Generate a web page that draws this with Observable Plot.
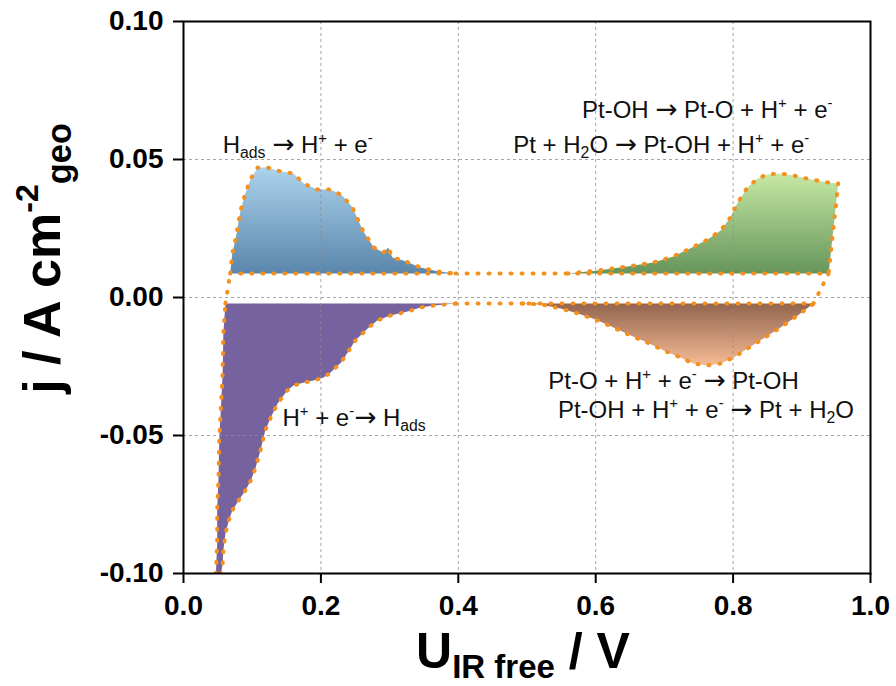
<!DOCTYPE html>
<html>
<head>
<meta charset="utf-8">
<script src="https://cdn.jsdelivr.net/npm/d3@7"></script>
<script src="https://cdn.jsdelivr.net/npm/@observablehq/plot@0.6"></script>
<style>
  html, body { margin: 0; padding: 0; background: #fff; }
  #chart svg { display: block; }
</style>
</head>
<body>
<div id="chart"></div>
<script>
// Axis ticks and their printed labels
const uTicks = [0, 0.2, 0.4, 0.6, 0.8, 1.0];
const uTickLabels = ["0.0", "0.2", "0.4", "0.6", "0.8", "1.0"];
const jTicks = [-0.10, -0.05, 0, 0.05, 0.10];
const jTickLabels = ["-0.10", "-0.05", "0.00", "0.05", "0.10"];

// Double-layer baselines of the anodic and cathodic sweeps (A cm^-2)
const anodicBase = 0.0087;
const cathodicBase = -0.0022;

// Hydrogen desorption (anodic sweep), upper edge
const hDesU = [0.068, 0.071, 0.076, 0.083, 0.090, 0.098, 0.108, 0.122, 0.141, 0.160, 0.175, 0.195,
               0.214, 0.231, 0.246, 0.261, 0.277, 0.291, 0.298, 0.304, 0.320, 0.345, 0.371, 0.396];
const hDesJ = [0.0087, 0.0159, 0.0214, 0.0315, 0.0377, 0.0431, 0.0471, 0.0471, 0.0457, 0.0449, 0.0413, 0.0391,
               0.0391, 0.0370, 0.0326, 0.0243, 0.0181, 0.0163, 0.0181, 0.0145, 0.0134, 0.0109, 0.0094, 0.0087];

// Pt oxidation (anodic sweep), upper edge then the turning point
const oxU = [0.559, 0.603, 0.646, 0.684, 0.713, 0.738, 0.763, 0.782, 0.796, 0.806, 0.821, 0.836,
             0.850, 0.869, 0.888, 0.913, 0.937, 0.953, 0.939];
const oxJ = [0.0087, 0.0098, 0.0112, 0.0127, 0.0149, 0.0178, 0.0210, 0.0243, 0.0290, 0.0341, 0.0399, 0.0431,
             0.0446, 0.0449, 0.0442, 0.0428, 0.0417, 0.0413, 0.0087];

// Pt oxide reduction (cathodic sweep), lower edge
const redU = [0.493, 0.520, 0.549, 0.574, 0.600, 0.626, 0.651, 0.675, 0.699, 0.723, 0.742, 0.763,
              0.782, 0.801, 0.821, 0.844, 0.869, 0.894, 0.917];
const redJ = [-0.0022, -0.0025, -0.0040, -0.0058, -0.0080, -0.0109, -0.0138, -0.0163, -0.0192, -0.0217, -0.0239, -0.0246,
              -0.0239, -0.0217, -0.0185, -0.0149, -0.0109, -0.0065, -0.0022];

// Hydrogen adsorption (cathodic sweep): inner edge going down, then outer edge coming back up
const hAdsU = [0.396, 0.364, 0.345, 0.326, 0.301, 0.282, 0.268, 0.250, 0.239, 0.229, 0.214, 0.204,
               0.189, 0.175, 0.160, 0.151, 0.137, 0.127, 0.119, 0.112, 0.105, 0.098, 0.090, 0.080,
               0.071, 0.066, 0.061, 0.058, 0.057, 0.054,
               0.047, 0.049, 0.049, 0.051, 0.052, 0.054, 0.057, 0.058, 0.061];
const hAdsJ = [-0.0022, -0.0029, -0.0036, -0.0051, -0.0065, -0.0083, -0.0112, -0.0156, -0.0199, -0.0236, -0.0272, -0.0290,
               -0.0301, -0.0308, -0.0319, -0.0337, -0.0384, -0.0435, -0.0482, -0.0554, -0.0616, -0.0663, -0.0699, -0.0736,
               -0.0772, -0.0808, -0.0855, -0.0917, -0.0964, -0.1011,
               -0.1011, -0.0891, -0.0772, -0.0652, -0.0518, -0.0420, -0.0275, -0.0130, -0.0022];

// Dotted links between the shaded regions along the scan
const linkId = ["left", "left", "upper", "upper", "right", "right", "lower", "lower"];
const linkU = [0.061, 0.068, 0.396, 0.559, 0.939, 0.917, 0.396, 0.493];
const linkJ = [cathodicBase, anodicBase, anodicBase, anodicBase, anodicBase, cathodicBase, cathodicBase, cathodicBase];

// Reaction labels (^{..} superscript, _{..} subscript)
const noteText = [
  "H_{ads} → H^{+} + e^{-}",
  "Pt-OH → Pt-O + H^{+} + e^{-}",
  "Pt + H_{2}O → Pt-OH + H^{+} + e^{-}",
  "Pt-O + H^{+} + e^{-} → Pt-OH",
  "Pt-OH + H^{+} + e^{-} → Pt + H_{2}O",
  "H^{+} + e^{-}→ H_{ads}"
];
const noteU = [0.057, 0.580, 0.480, 0.531, 0.545, 0.144];
const noteJ = [0.0552, 0.0679, 0.0552, -0.0303, -0.0408, -0.0437];

const xTitle = "U_{IR free} / V";
const yTitle = "j / A cm^{-2}_{geo}";

// Helpers to turn the arrays into rows
const rows = (us, js, id) => us.map((u, i) => ({u, j: js[i], id}));
const closed = (r) => [...r, r[0]];

const blueRows = closed(rows(hDesU, hDesJ, "hdes"));
const greenRows = closed(rows(oxU, oxJ, "ox"));
const brownRows = closed(rows(redU, redJ, "red"));
const purpleRows = rows(hAdsU, hAdsJ, "hads");
const linkRows = linkU.map((u, i) => ({u, j: linkJ[i], id: linkId[i]}));
const outlineRows = [...blueRows, ...greenRows, ...brownRows, ...purpleRows, ...linkRows];

const orange = "#f5901c";
const dotted = {x: "u", y: "j", z: "id", stroke: orange, strokeWidth: 4,
                strokeDasharray: "1,10", strokeLinecap: "round", clip: true};
const region = (data, fill) => Plot.line(data, {x: "u", y: "j", fill, stroke: "none", clip: true});

const chart = Plot.plot({
  width: 896,
  height: 686,
  marginLeft: 183,
  marginRight: 26,
  marginTop: 21,
  marginBottom: 113,
  style: {fontFamily: "'Liberation Sans', Arial, Helvetica, sans-serif", fontSize: "28px",
          fontWeight: "bold", color: "black", background: "white"},
  x: {domain: [0, 1]},
  y: {domain: [-0.1, 0.1]},
  marks: [
    region(blueRows, "url(#g-hdes)"),
    region(greenRows, "url(#g-ox)"),
    region(brownRows, "url(#g-red)"),
    region(purpleRows, "#76629e"),
    Plot.gridX(uTicks, {stroke: "#8f8f8f", strokeOpacity: 0.8, strokeWidth: 1, strokeDasharray: "3,3"}),
    Plot.gridY(jTicks, {stroke: "#8f8f8f", strokeOpacity: 0.8, strokeWidth: 1, strokeDasharray: "3,3"}),
    Plot.line(outlineRows, dotted),
    Plot.frame({stroke: "black", strokeWidth: 2}),
    Plot.axisX(uTicks, {tickSize: 10, tickPadding: 12, strokeWidth: 2, fontSize: 28, fontWeight: "bold",
                        tickFormat: (d) => uTickLabels[uTicks.indexOf(d)], label: null}),
    Plot.axisY(jTicks, {tickSize: 10, tickPadding: 10, strokeWidth: 2, fontSize: 28, fontWeight: "bold",
                        tickFormat: (d) => jTickLabels[jTicks.indexOf(d)], label: null}),
    Plot.text(noteText, {x: noteU, y: noteJ, text: (d) => d, textAnchor: "start",
                         fontSize: 24, fontWeight: "normal", fill: "#111"}),
    Plot.text([xTitle], {text: (d) => d, frameAnchor: "bottom", lineAnchor: "middle", dx: -4, dy: 78,
                         fontSize: 50, fontWeight: "bold", textAnchor: "middle"}),
    Plot.text([yTitle], {text: (d) => d, frameAnchor: "left", lineAnchor: "middle", dx: -140, dy: -39, rotate: -90,
                         fontSize: 52, fontWeight: "bold", textAnchor: "middle"})
  ]
});

document.getElementById("chart").appendChild(chart);

// Vertical gradients used by the shaded regions
const svg = d3.select(chart.tagName.toLowerCase() === "svg" ? chart : chart.querySelector("svg"));
const defs = svg.insert("defs", ":first-child");
function gradient(id, top, bottom) {
  const g = defs.append("linearGradient").attr("id", id)
    .attr("x1", 0).attr("y1", 0).attr("x2", 0).attr("y2", 1);
  g.append("stop").attr("offset", 0).attr("stop-color", top);
  g.append("stop").attr("offset", 1).attr("stop-color", bottom);
}
gradient("g-hdes", "#abd3ec", "#5a86ab");
gradient("g-ox", "#c6e8a4", "#66955a");
gradient("g-red", "#93654f", "#f6bb95");

// Render ^{..} / _{..} markup as raised / lowered tspans, with a wider arrow glyph
function richText(node) {
  const src = node.textContent;
  if (!/[_^]\{|→/.test(src)) return;
  const base = parseFloat(getComputedStyle(node).fontSize);
  while (node.firstChild) node.removeChild(node.firstChild);
  const parts = src.split(/([_^]\{[^}]*\}|→)/).filter((s) => s.length);
  let shift = 0;
  for (const p of parts) {
    const t = document.createElementNS("http://www.w3.org/2000/svg", "tspan");
    let target = 0, size = null, s = p;
    if (p.startsWith("^{")) { target = -0.42 * base; size = 0.62 * base; s = p.slice(2, -1); }
    else if (p.startsWith("_{")) { target = 0.21 * base; size = 0.66 * base; s = p.slice(2, -1); }
    else if (p === "→") { size = 1.1 * base; t.setAttribute("font-family", "'DejaVu Sans', sans-serif"); }
    if (target !== shift) t.setAttribute("dy", (target - shift).toFixed(2));
    shift = target;
    if (size) t.setAttribute("font-size", size.toFixed(1));
    t.textContent = s;
    node.appendChild(t);
  }
}
svg.selectAll("text").each(function () { richText(this); });
</script>
</body>
</html>
